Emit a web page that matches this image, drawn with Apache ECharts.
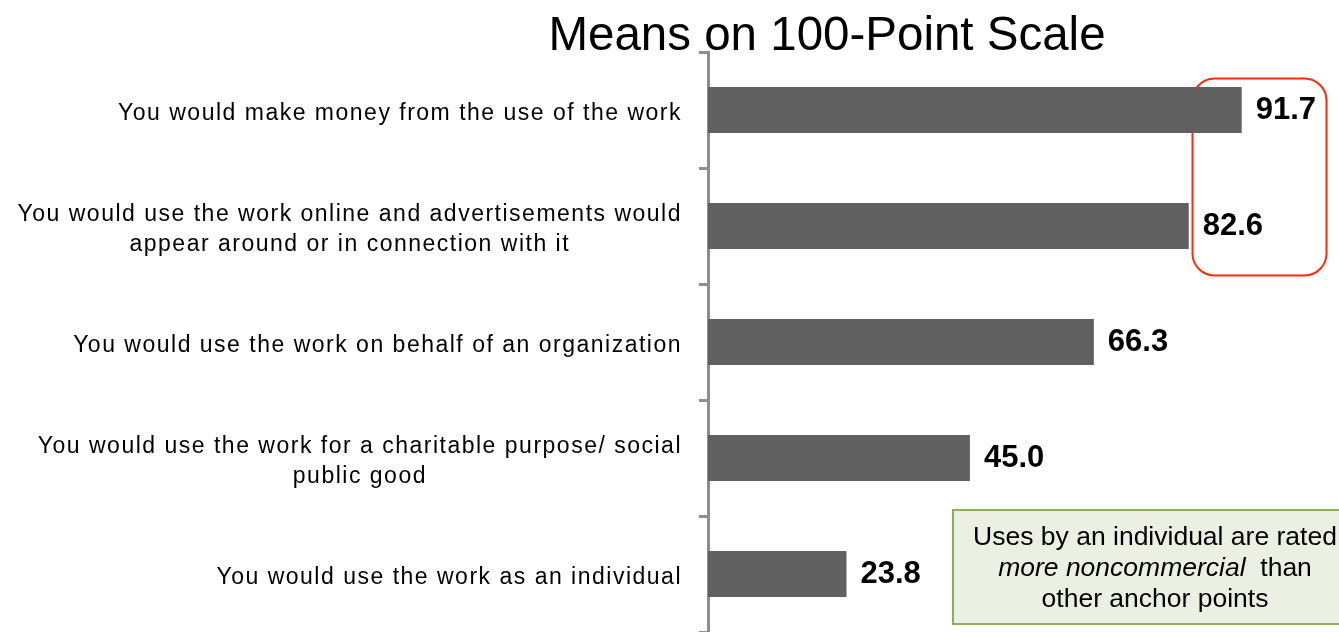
<!DOCTYPE html>
<html>
<head>
<meta charset="utf-8">
<script src="https://cdn.jsdelivr.net/npm/echarts@6/dist/echarts.min.js"></script>
<style>html,body{margin:0;padding:0;background:#fff;}#c{width:1339px;height:632px;}</style>
</head>
<body>
<div id="c"></div>
<script>
// --- data ---
const chartTitle = 'Means on 100-Point Scale';
const categories = [
  'You would make money from the use of the work',
  'You would use the work online and advertisements would\nappear around or in connection with it',
  'You would use the work on behalf of an organization',
  'You would use the work for a charitable purpose/ social\npublic good',
  'You would use the work as an individual'
];
const means = [91.7, 82.6, 66.3, 45.0, 23.8];
const noteLines = ['Uses by an individual are rated', 'more noncommercial', 'than', 'other anchor points'];

// letter spacing for the category labels (as in the original slide)
(function () {
  const proto = CanvasRenderingContext2D.prototype;
  ['fillText', 'measureText'].forEach(function (fn) {
    const orig = proto[fn];
    proto[fn] = function () {
      if ('letterSpacing' in this) {
        this.letterSpacing = /(^|\s)23px/.test(this.font) ? '1.5px' : '0px';
      }
      return orig.apply(this, arguments);
    };
  });
})();

const chart = echarts.init(document.getElementById('c'), null, { renderer: 'canvas' });
const FONT = '"Liberation Sans", Arial, sans-serif';
chart.setOption({
  animation: false,
  backgroundColor: '#ffffff',
  title: {
    text: chartTitle,
    left: 822, top: 8, textAlign: 'center',
    textStyle: { fontFamily: FONT, fontSize: 47.5, fontWeight: 'normal', color: '#000000' }
  },
  grid: { left: 708, right: 49, top: 52, bottom: -4, containLabel: false },
  xAxis: {
    type: 'value', min: 0, max: 100,
    show: false
  },
  yAxis: {
    type: 'category', data: categories, inverse: true,
    axisLine: { show: true, lineStyle: { color: '#8e8e8e', width: 3 } },
    axisTick: { show: true, length: 9, lineStyle: { color: '#8e8e8e', width: 3 } },
    axisLabel: {
      margin: 26, padding: [7, 0, 0, 0],
      fontFamily: FONT, fontSize: 23, color: '#000000', lineHeight: 30,
      formatter: function (v) {
        return v.split('\n').map(function (l) { return '{c|' + l + '}'; }).join('\n');
      },
      rich: { c: { align: 'center', fontFamily: FONT, fontSize: 23, color: '#000000', lineHeight: 30 } }
    }
  },
  series: [{
    type: 'bar', data: means, barWidth: 46,
    itemStyle: { color: '#606060' },
    label: {
      show: true, position: 'right', distance: 14,
      fontFamily: FONT, fontSize: 31, fontWeight: 'bold', color: '#000000',
      formatter: function (p) { return p.value.toFixed(1); }
    }
  }],
  graphic: [
    {
      type: 'rect', left: 1190, top: 76,
      shape: { width: 134, height: 197, r: 22 },
      style: { fill: 'none', stroke: '#ff2a0a', lineWidth: 2 }
    },
    {
      type: 'rect', left: 952, top: 509,
      shape: { width: 400, height: 114 },
      style: { fill: '#ecf0e3', stroke: '#8fac5b', lineWidth: 2 }
    },
    {
      type: 'text',
      style: {
        x: 1155, y: 522,
        text: '{n|' + noteLines[0] + '}\n{i|' + noteLines[1] + '}{n|  ' + noteLines[2] + '}\n{n|' + noteLines[3] + '}',
        align: 'center', verticalAlign: 'top',
        rich: {
          n: { fontFamily: FONT, fontSize: 26.5, color: '#404040', lineHeight: 31, align: 'center' },
          i: { fontFamily: FONT, fontSize: 26.5, fontStyle: 'italic', color: '#404040', lineHeight: 31, align: 'center' }
        }
      }
    }
  ]
});
</script>
</body>
</html>
